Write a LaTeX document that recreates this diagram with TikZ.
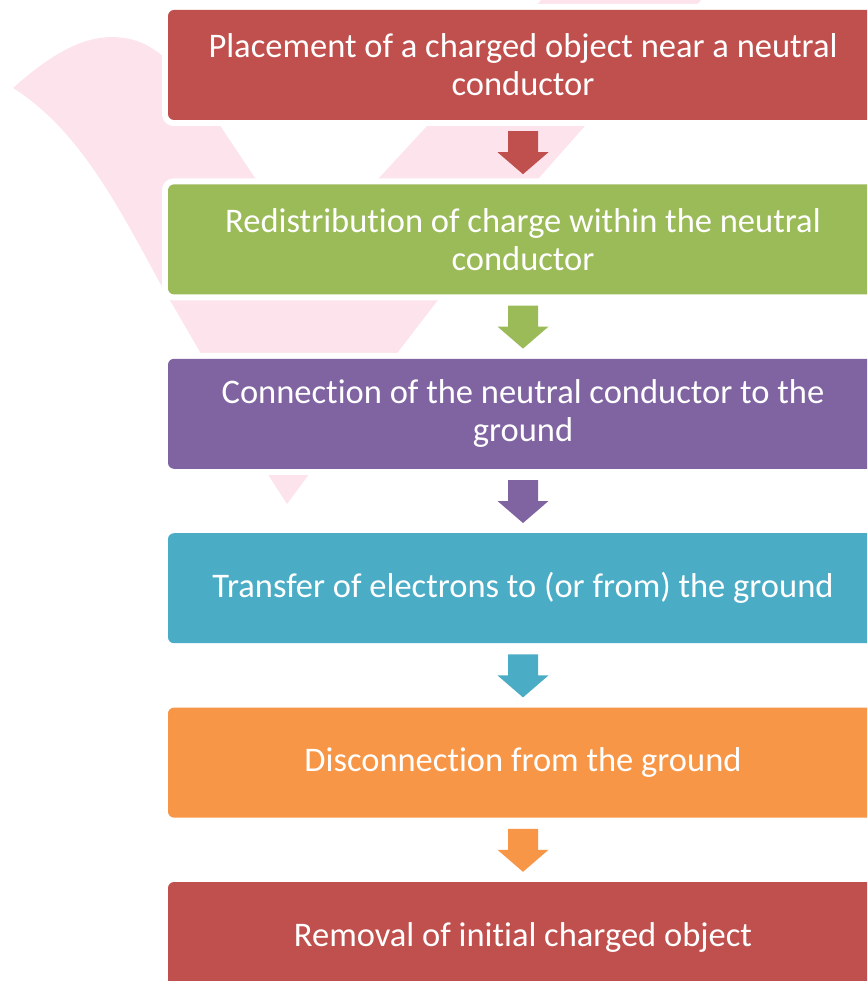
\documentclass[tikz,border=0pt]{standalone}
\usepackage{fontspec}
\setmainfont{Carlito}[Ligatures=NoCommon]
\usetikzlibrary{calc,positioning}

\definecolor{stepred}{HTML}{C0504D}
\definecolor{stepgreen}{HTML}{9BBB59}
\definecolor{steppurple}{HTML}{8064A2}
\definecolor{stepteal}{HTML}{4BACC6}
\definecolor{steporange}{HTML}{F79646}
\definecolor{markpink}{HTML}{FDE4EC}

\begin{document}
\begin{tikzpicture}[x=1pt, y=-1pt, every node/.style={inner sep=0pt},
    stepbox/.style={rounded corners=6pt, minimum width=710pt, minimum height=110pt,
        text=white, align=center, font=\fontsize{34.5}{38}\selectfont,
        preaction={draw=white, line width=12pt}} ]

    \clip (0,0) rectangle (867,981);

    % pale tick mark behind the steps
    \fill[markpink] (13,88) .. controls (50,55) and (80,38) .. (110,37)
        .. controls (135,37) and (150,45) .. (165,58) -- (221,127) -- (255,178)
        -- (307,256) -- (379,178) -- (426,127) -- (543,-2) -- (703,-2)
        -- (584,127) -- (539,178) -- (438,300) -- (398,352) -- (310,473)
        -- (287,504) -- (267,473) -- (200,352) -- (160,283)
        .. controls (120,210) and (80,130) .. (13,88) -- cycle;

    % the steps
    \node[stepbox, fill=stepred] (place) at (523,65)
        {Placement of a charged object near a neutral\\conductor};
    \node[stepbox, fill=stepgreen, below=64pt of place] (redist)
        {Redistribution of charge within the neutral\\conductor};
    \node[stepbox, fill=steppurple, below=64pt of redist] (connect)
        {Connection of the neutral conductor to the\\ground};
    \node[stepbox, fill=stepteal, below=64pt of connect] (transfer)
        {Transfer of electrons to (or from) the ground};
    \node[stepbox, fill=steporange, below=64pt of transfer] (disconn)
        {Disconnection from the ground};
    \node[stepbox, fill=stepred, below=64pt of disconn] (removal)
        {Removal of initial charged object};

    % block arrows between the steps
    \foreach \a/\b/\c in {place/redist/stepred, redist/connect/stepgreen,
        connect/transfer/steppurple, transfer/disconn/stepteal,
        disconn/removal/steporange}
        \fill[\c] ($(\a.south)+(-15,11)$) -- ++(30,0) -- ++(0,21) -- ++(10.5,0)
            -- ($(\b.north)+(0,-10)$) -- ($(\a.south)+(-25.5,32)$) -- ++(10.5,0) -- cycle;

\end{tikzpicture}
\end{document}
